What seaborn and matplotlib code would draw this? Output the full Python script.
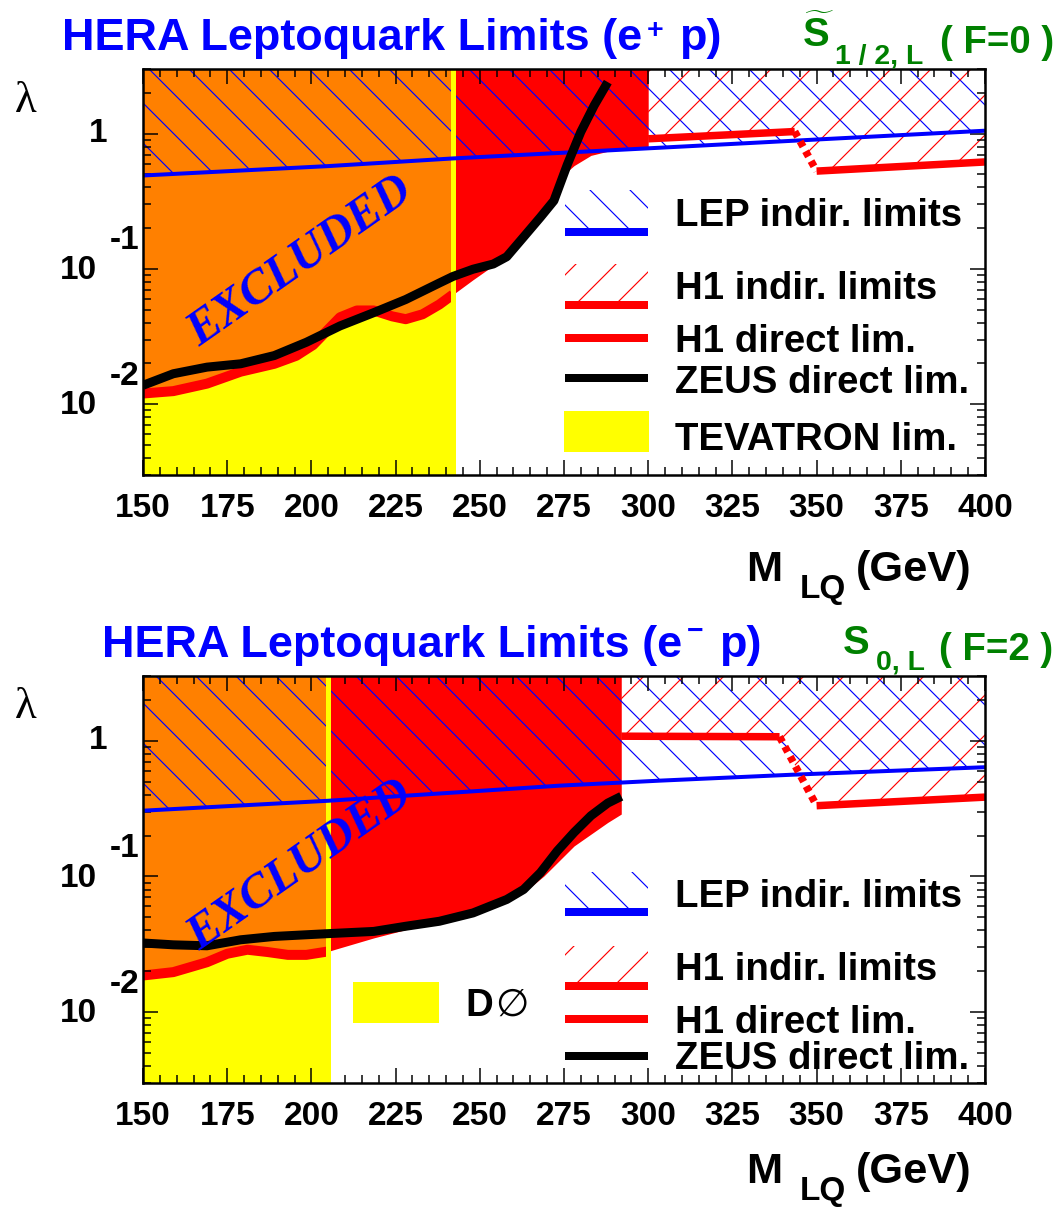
import numpy as np
import matplotlib
matplotlib.use("Agg")
import matplotlib.pyplot as plt
from matplotlib.patches import Rectangle
from matplotlib.lines import Line2D
from matplotlib.ticker import MultipleLocator, LogLocator, NullFormatter
import seaborn as sns

# ---------------- e+ p : S~_{1/2,L} (F=0) ----------------
ep_h1_mass = [150, 159, 169, 179, 189, 195.5, 200.5, 204.5, 208.5, 213.5, 218.5, 224,
              228, 233, 238, 242, 248, 253, 258, 263, 268, 272, 275, 278, 283, 288, 294, 300]
ep_h1_lambda = [0.0120, 0.0125, 0.0142, 0.0174, 0.0199, 0.0228, 0.0274, 0.0347, 0.0439,
                0.0493, 0.0493, 0.0446, 0.0425, 0.0462, 0.0546, 0.0646, 0.0832, 0.1017,
                0.122, 0.183, 0.240, 0.336, 0.50, 0.58, 0.69, 0.74, 0.775, 0.79]
ep_zeus_mass = [150, 159, 169, 179, 189, 198.5, 208.5, 218.5, 228, 238, 242, 248, 254,
                258, 263, 268, 272, 276, 280, 284, 288]
ep_zeus_lambda = [0.0138, 0.0168, 0.0188, 0.0199, 0.0229, 0.0287, 0.0379, 0.0475, 0.0594,
                  0.0787, 0.0879, 0.0995, 0.1087, 0.123, 0.172, 0.241, 0.319, 0.591,
                  1.03, 1.62, 2.40]
ep_lep_mass = [150, 205, 242, 303, 400]
ep_lep_lambda = [0.49, 0.575, 0.655, 0.785, 1.05]
ep_h1ind_mass = [300, 343.5, 350, 400]
ep_h1ind_lambda = [0.915, 1.035, 0.528, 0.617]
ep_tevatron_mass = 242

# ---------------- e- p : S_{0,L} (F=2) ----------------
em_h1_mass = [150, 159, 169, 175, 181, 187, 193, 198.5, 205, 207, 218.5, 228, 238, 248,
              258, 263, 269, 278, 288, 292]
em_h1_lambda = [0.0186, 0.0197, 0.0233, 0.0269, 0.0288, 0.0277, 0.0264, 0.0264, 0.0280,
                0.0290, 0.0352, 0.0405, 0.0454, 0.0523, 0.0656, 0.0757, 0.1005, 0.1677,
                0.250, 0.288]
em_zeus_mass = [150, 159, 169, 179, 189, 204.5, 218.5, 228, 238, 248, 258, 263, 268, 273,
                278, 283, 288, 292]
em_zeus_lambda = [0.0323, 0.0313, 0.0308, 0.0341, 0.0361, 0.0378, 0.0393, 0.0429, 0.0467,
                  0.0538, 0.0676, 0.0801, 0.1065, 0.154, 0.211, 0.280, 0.347, 0.389]
em_lep_mass = [150, 205, 274, 303.5, 343, 400]
em_lep_lambda = [0.305, 0.361, 0.467, 0.508, 0.562, 0.638]
em_h1ind_mass = [292, 339, 350, 400]
em_h1ind_lambda = [1.08, 1.07, 0.332, 0.384]
em_d0_mass = 205

x_ticks = [150, 175, 200, 225, 250, 275, 300, 325, 350, 375, 400]

RED, ORANGE, YELLOW = "#ff0000", "#ff8000", "#ffff00"
BLUE, GREEN = "#0000ff", "#008000"
YMIN, YMAX = 0.003, 3.0
XMIN, XMAX = 150, 400

sns.set_theme(style="ticks")
plt.rcParams.update({
    "font.family": ["Liberation Sans", "DejaVu Sans"],
    "font.weight": "bold",
    "mathtext.fontset": "custom",
    "mathtext.rm": "Liberation Sans:bold",
    "mathtext.bf": "Liberation Sans:bold",
    "mathtext.it": "Liberation Sans:bold",
    "hatch.linewidth": 0.7,
    "axes.linewidth": 1.5,
    "axes.edgecolor": "black",
    "xtick.color": "black",
    "ytick.color": "black",
    "axes.facecolor": "white",
    "figure.facecolor": "white",
})

W, H, DPI = 1060, 1207, 120
fig = plt.figure(figsize=(W / DPI, H / DPI), dpi=DPI)
renderer = fig.canvas.get_renderer()


def text_px(px, py, s, **kw):
    return fig.text(px / W, 1 - py / H, s, **kw)


def extent(t):
    bb = t.get_window_extent(renderer=renderer)
    return bb.x0, bb.x1


def draw_panel(ax, h1_m, h1_l, zeus_m, zeus_l, lep_m, lep_l, ind_m, ind_l, tev_m):
    h1_m = np.asarray(h1_m, float)
    h1_l = np.asarray(h1_l, float)
    ind_m = np.asarray(ind_m, float)
    ind_l = np.asarray(ind_l, float)
    ax.set_yscale("log")
    low = h1_m <= tev_m

    # H1 direct exclusion, Tevatron exclusion and their overlap
    ax.fill_between(h1_m, h1_l, YMAX, color=RED, lw=0, zorder=1)
    ax.fill_between(h1_m[low], YMIN, h1_l[low], color=YELLOW, lw=0, zorder=1.1)
    ax.fill_between(h1_m[low], h1_l[low], YMAX, color=ORANGE, lw=0, zorder=1.2)
    ax.plot(h1_m[low], h1_l[low], color=RED, lw=6, solid_capstyle="butt", zorder=1.3)

    # indirect limits (hatched above the bound)
    ax.fill_between(lep_m, lep_l, YMAX, facecolor="none", edgecolor=BLUE,
                    hatch="\\", lw=0, zorder=2)
    ax.fill_between(ind_m, ind_l, YMAX, facecolor="none", edgecolor=RED,
                    hatch="/", lw=0, zorder=2)

    ax.axvline(tev_m, color=YELLOW, lw=3, zorder=2.6)

    sns.lineplot(x=lep_m, y=lep_l, ax=ax, color=BLUE, lw=2.4,
                 estimator=None, sort=False, zorder=3)
    ax.plot(ind_m[:2], ind_l[:2], color=RED, lw=4.5, solid_capstyle="butt", zorder=3)
    ax.plot(ind_m[2:], ind_l[2:], color=RED, lw=4.5, solid_capstyle="butt", zorder=3)
    ax.plot(ind_m[1:3], ind_l[1:3], color=RED, lw=4.5, ls=(0, (0.8, 0.7)),
            dash_capstyle="butt", zorder=3)

    sns.lineplot(x=zeus_m, y=zeus_l, ax=ax, color="black", lw=5.4,
                 estimator=None, sort=False, zorder=4, solid_capstyle="butt")

    ax.set_xlim(XMIN, XMAX)
    ax.set_ylim(YMIN, YMAX)
    ax.set_xlabel("")
    ax.set_ylabel("")
    ax.set_axisbelow(False)
    for sp in ax.spines.values():
        sp.set_visible(True)
        sp.set_zorder(10)
        sp.set_linewidth(1.5)
        sp.set_color("black")

    ax.set_xticks(x_ticks)
    ax.xaxis.set_minor_locator(MultipleLocator(5))
    ax.yaxis.set_major_locator(LogLocator(base=10, numticks=10))
    ax.yaxis.set_minor_locator(LogLocator(base=10, subs=np.arange(2, 10), numticks=20))
    ax.yaxis.set_major_formatter(NullFormatter())
    ax.yaxis.set_minor_formatter(NullFormatter())
    ax.tick_params(which="both", direction="in", top=True, right=True,
                   width=0.9, color="black")
    ax.tick_params(which="major", length=9)
    ax.tick_params(which="minor", length=4.8)
    ax.tick_params(axis="x", which="major", labelsize=20, pad=11)
    for lab in ax.get_xticklabels():
        lab.set_fontweight("bold")

    # power-of-ten labels on the lambda axis
    lab_kw = dict(xycoords=("axes fraction", "data"), textcoords="offset points",
                  fontsize=20, fontweight="bold", color="black")
    ax.annotate("1", xy=(0, 1), xytext=(-21.6, 0), ha="right", va="center", **lab_kw)
    for e in (1, 2):
        ax.annotate("10", xy=(0, 10.0 ** -e), xytext=(-27.6, -1), ha="right",
                    va="center", **lab_kw)
        ax.annotate(f"-{e}", xy=(0, 10.0 ** -e), xytext=(-19.8, 16.8), ha="left",
                    va="center", **lab_kw)


def legend_hatch(px0, px1, py0, py1, color, hatch):
    fig.add_artist(Rectangle((px0 / W, 1 - py1 / H), (px1 - px0) / W, (py1 - py0) / H,
                             transform=fig.transFigure, facecolor="none",
                             edgecolor=color, hatch=hatch, lw=0))


def legend_box(px0, px1, py0, py1, color):
    fig.add_artist(Rectangle((px0 / W, 1 - py1 / H), (px1 - px0) / W, (py1 - py0) / H,
                             transform=fig.transFigure, facecolor=color, lw=0))


def legend_line(px0, px1, py, color):
    fig.add_artist(Line2D([px0 / W, px1 / W], [1 - py / H] * 2, transform=fig.transFigure,
                          color=color, lw=4.8, solid_capstyle="butt"))


def title(px_left, py_base, sign, sign_rise):
    kw = dict(fontsize=27, fontweight="bold", color=BLUE, va="baseline")
    t = text_px(px_left, py_base, "HERA Leptoquark Limits (e", **kw)
    _, x1 = extent(t)
    s = text_px(x1 + 5, py_base - sign_rise, sign, fontsize=17, fontweight="bold",
                color=BLUE, va="center")
    _, x1 = extent(s)
    text_px(x1 + 15, py_base, "p)", **kw)


def mass_label(py_base):
    kw = dict(fontweight="bold", color="black", ha="right", va="baseline")
    g = text_px(972, py_base, "(GeV)", fontsize=26, **kw)
    x0, _ = extent(g)
    lq = text_px(x0 - 10, py_base + 17, "LQ", fontsize=20, **kw)
    x0, _ = extent(lq)
    text_px(x0 - 18, py_base, "M", fontsize=26, **kw)


def model_label(py_top, name, sub, fval, px_s, px_sub, px_f):
    kw = dict(fontweight="bold", color=GREEN, va="baseline")
    text_px(px_s, py_top - 22, name, fontsize=24, **kw)
    text_px(px_sub, py_top - 6, sub, fontsize=17, **kw)
    text_px(px_f, py_top - 16, f"( F={fval} )", fontsize=23, **kw)


def excluded(px, py):
    text_px(px, py, "EXCLUDED", fontsize=29, family="Liberation Serif",
            fontweight="bold", style="italic", color=BLUE, rotation=35,
            ha="center", va="center", rotation_mode="anchor", zorder=20)


def lambda_label(py):
    text_px(26, py, "λ", fontsize=27, family="Liberation Serif", fontweight="normal",
            color="black", ha="center", va="center")


leg_kw = dict(fontsize=23, fontweight="bold", color="black", va="baseline")

# ---------------- upper panel ----------------
ax1 = fig.add_axes([143 / W, 1 - 475 / H, 842 / W, 406 / H])
draw_panel(ax1, ep_h1_mass, ep_h1_lambda, ep_zeus_mass, ep_zeus_lambda,
           ep_lep_mass, ep_lep_lambda, ep_h1ind_mass, ep_h1ind_lambda, ep_tevatron_mass)
title(62, 50, "+", 19)
model_label(69, r"$\widetilde{\mathbf{S}}$", "1 / 2, L", 0, 802, 835, 940)
mass_label(581)
lambda_label(101)
excluded(300, 262)

legend_hatch(565, 648, 190, 228, BLUE, "\\")
legend_line(565, 648, 232, BLUE)
text_px(675, 226, "LEP indir. limits", **leg_kw)
legend_hatch(565, 648, 264, 301, RED, "/")
legend_line(565, 648, 305, RED)
text_px(675, 299, "H1 indir. limits", **leg_kw)
legend_line(565, 648, 338, RED)
text_px(675, 352, "H1 direct lim.", **leg_kw)
legend_line(565, 648, 378, "black")
text_px(675, 393, "ZEUS direct lim.", **leg_kw)
legend_box(564, 649, 411, 452, YELLOW)
text_px(675, 450, "TEVATRON lim.", **leg_kw)

# ---------------- lower panel ----------------
ax2 = fig.add_axes([143 / W, 1 - 1083 / H, 842 / W, 407 / H])
draw_panel(ax2, em_h1_mass, em_h1_lambda, em_zeus_mass, em_zeus_lambda,
           em_lep_mass, em_lep_lambda, em_h1ind_mass, em_h1ind_lambda, em_d0_mass)
title(102, 657, "\u2212", 25)
model_label(676, "S", "0, L", 2, 843, 876, 939)
mass_label(1183)
lambda_label(707)
excluded(300, 866)

legend_hatch(565, 648, 872, 908, BLUE, "\\")
legend_line(565, 648, 912, BLUE)
text_px(675, 907, "LEP indir. limits", **leg_kw)
legend_hatch(565, 648, 946, 982, RED, "/")
legend_line(565, 648, 985.5, RED)
text_px(675, 980, "H1 indir. limits", **leg_kw)
legend_line(565, 648, 1018.5, RED)
text_px(675, 1033, "H1 direct lim.", **leg_kw)
legend_line(565, 648, 1055.5, "black")
text_px(675, 1069, "ZEUS direct lim.", **leg_kw)
legend_box(353, 439, 982, 1023, YELLOW)
d = text_px(465, 1016, "D", **leg_kw)
_, dx1 = extent(d)
text_px(dx1 + 2, 1016, "\u2205", fontsize=23, fontweight="normal", color="black",
        va="baseline", family=["DejaVu Sans"])

fig.savefig("out.png", dpi=DPI)
